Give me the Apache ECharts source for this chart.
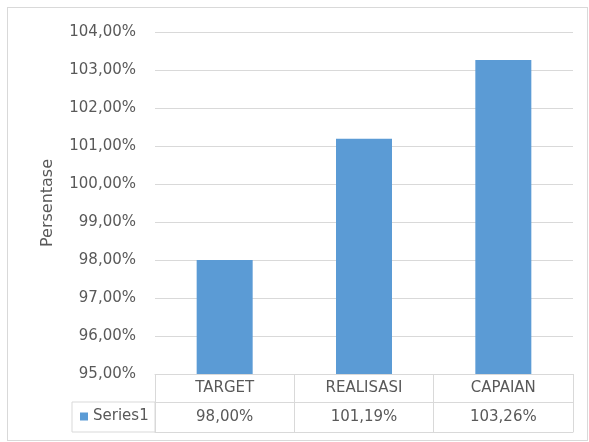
<!DOCTYPE html>
<html>
<head>
<meta charset="utf-8">
<script src="https://cdn.jsdelivr.net/npm/echarts@6/dist/echarts.min.js"></script>
<style>
html,body{margin:0;padding:0;background:#fff;}
#wrap{position:relative;width:589px;height:442px;}
#chart{position:absolute;left:0;top:0;width:589px;height:442px;}
#frame{position:absolute;left:7px;top:7px;width:579px;height:432px;border:1px solid #d9d9d9;pointer-events:none;}
</style>
</head>
<body>
<div id="wrap"><div id="chart"></div><div id="frame"></div></div>
<script>
const categories = ['TARGET', 'REALISASI', 'CAPAIAN'];
const seriesName = 'Series1';
const values = [98.00, 101.19, 103.26];
const yMin = 95, yMax = 104, yStep = 1;
const axisTitle = 'Persentase';

const FONT = 'DejaVu Sans';
const TXT = '#595959';
const LINE = '#d9d9d9';
const fmt = v => v.toFixed(2).replace('.', ',') + '%';

// measure legend text to size the legend cell
const ctx = document.createElement('canvas').getContext('2d');
ctx.font = '15px "' + FONT + '"';
const tw = ctx.measureText(seriesName).width;
const cellW = 83, padL = 8, icon = 8;
const padR = Math.max(0, cellW - padL - icon - 5 - tw);

const chart = echarts.init(document.getElementById('chart'), null, {renderer: 'canvas'});
chart.setOption({
  animation: false,
  textStyle: {fontFamily: FONT},
  grid: {left: 155, right: 16, top: 32, bottom: 68, containLabel: false},
  legend: {
    show: true,
    left: 72, top: 402,
    orient: 'horizontal',
    data: [seriesName],
    icon: 'rect', itemWidth: icon, itemHeight: icon,
    padding: [7, padR, 8, padL],
    borderColor: LINE, borderWidth: 1,
    textStyle: {color: TXT, fontSize: 15, fontFamily: FONT},
    selectedMode: false
  },
  xAxis: [
    {
      type: 'category', data: categories, position: 'bottom', gridIndex: 0,
      boundaryGap: true,
      axisLine: {show: true, lineStyle: {color: LINE, width: 1}},
      axisTick: {show: true, length: 58, interval: 0, lineStyle: {color: LINE}},
      axisLabel: {color: TXT, fontSize: 15, margin: 7, fontFamily: FONT}
    },
    {
      type: 'category', data: values.map(fmt), position: 'bottom', offset: 28,
      boundaryGap: true,
      axisLine: {show: true, lineStyle: {color: LINE, width: 1}},
      axisTick: {show: false},
      axisLabel: {color: TXT, fontSize: 15, margin: 8, fontFamily: FONT}
    },
    {
      type: 'category', data: categories, position: 'bottom', offset: 58,
      axisLine: {show: true, lineStyle: {color: LINE, width: 1}},
      axisTick: {show: false},
      axisLabel: {show: false}
    }
  ],
  yAxis: {
    type: 'value', min: yMin, max: yMax, interval: yStep,
    name: axisTitle, nameLocation: 'middle', nameGap: 99,
    nameTextStyle: {color: TXT, fontSize: 16, fontFamily: FONT},
    axisLine: {show: false}, axisTick: {show: false},
    axisLabel: {color: TXT, fontSize: 15, margin: 19, formatter: v => fmt(v), fontFamily: FONT},
    splitLine: {show: true, lineStyle: {color: LINE, width: 1}}
  },
  series: [{
    name: seriesName, type: 'bar', data: values, xAxisIndex: 0,
    barWidth: 56,
    itemStyle: {color: '#5b9bd5'}
  }]
});
</script>
</body>
</html>
